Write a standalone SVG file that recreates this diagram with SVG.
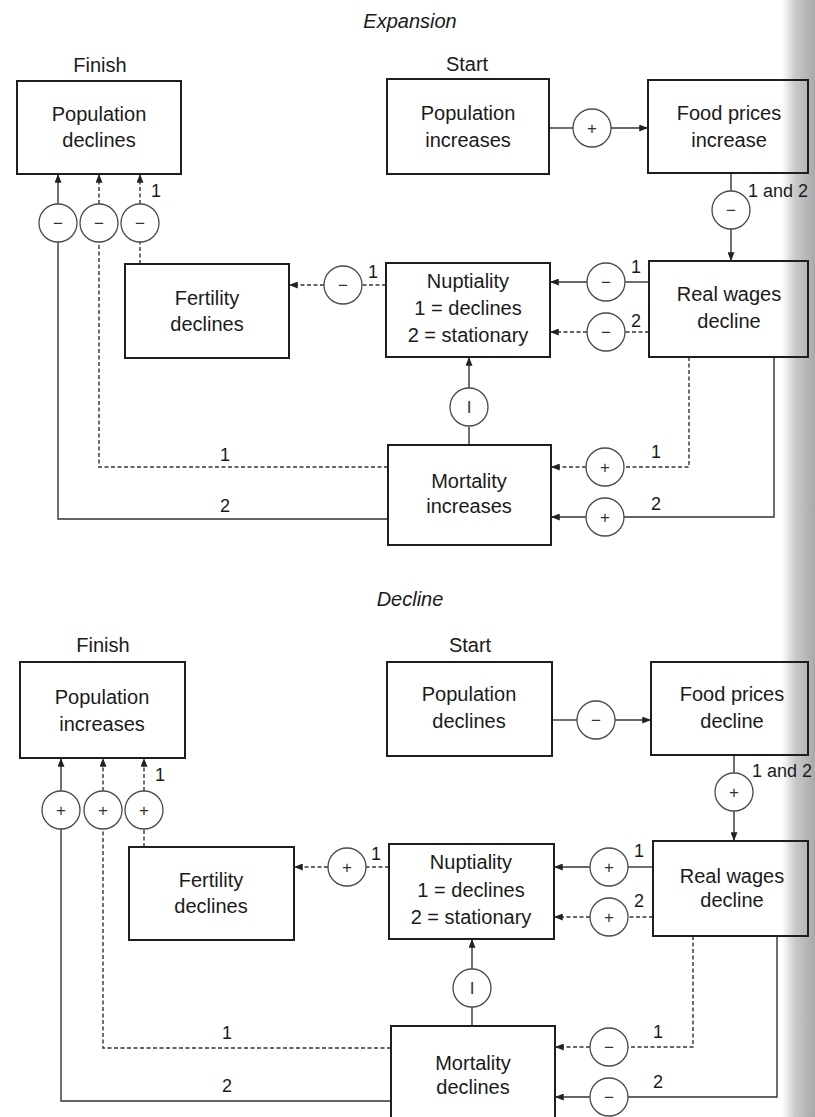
<svg xmlns="http://www.w3.org/2000/svg" width="815" height="1117" viewBox="0 0 815 1117">
<defs>
<linearGradient id="scan" x1="0" y1="0" x2="1" y2="0">
<stop offset="0" stop-color="#ffffff"/>
<stop offset="0.4" stop-color="#c9c9c9"/>
<stop offset="1" stop-color="#a9a9a9"/>
</linearGradient>
<marker id="ah" viewBox="0 0 10 8" refX="10" refY="4" markerWidth="9" markerHeight="7" markerUnits="userSpaceOnUse" orient="auto">
<path d="M0,0 L10,4 L0,8 Z" fill="#222"/>
</marker>
</defs>
<style>
.box{fill:none;stroke:#1e1e1e;stroke-width:2}
.c{fill:#fff;stroke:#4a4a4a;stroke-width:1.3}
.ln{fill:none;stroke:#333;stroke-width:1.4}
.ds{stroke-dasharray:4 2.5}
.t{font-family:"Liberation Sans",Arial,sans-serif;font-size:20px;fill:#1a1a1a;text-anchor:middle}
.it{font-style:italic}
.lb{font-family:"Liberation Sans",Arial,sans-serif;font-size:18px;fill:#1a1a1a}
.s{font-family:"Liberation Sans",Arial,sans-serif;font-size:17px;fill:#333;text-anchor:middle}
</style>
<rect x="0" y="0" width="815" height="1117" fill="#fff"/>
<rect x="782" y="0" width="33" height="1117" fill="url(#scan)"/>

<!-- ===== EXPANSION ===== -->
<text class="t it" x="410" y="28">Expansion</text>
<text class="t" x="100" y="72">Finish</text>
<text class="t" x="467" y="71">Start</text>

<g id="connectors-top">
<path class="ln" d="M549,128 H573"/>
<path class="ln" d="M611,128 H648" marker-end="url(#ah)"/>
<path class="ln" d="M731,173 V191"/>
<path class="ln" d="M731,229 V261" marker-end="url(#ah)"/>
<path class="ln" d="M649,282 H625"/>
<path class="ln" d="M587,282 H550" marker-end="url(#ah)"/>
<path class="ln ds" d="M649,332 H625"/>
<path class="ln ds" d="M587,332 H550" marker-end="url(#ah)"/>
<path class="ln ds" d="M386,285 H362"/>
<path class="ln ds" d="M324,285 H289" marker-end="url(#ah)"/>
<path class="ln ds" d="M140,264 V242"/>
<path class="ln ds" d="M140,204 V174" marker-end="url(#ah)"/>
<path class="ln ds" d="M388,467 H99 V242"/>
<path class="ln ds" d="M99,204 V174" marker-end="url(#ah)"/>
<path class="ln" d="M388,519 H58 V242"/>
<path class="ln" d="M58,204 V174" marker-end="url(#ah)"/>
<path class="ln" d="M469,445 V427"/>
<path class="ln" d="M469,388 V357" marker-end="url(#ah)"/>
<path class="ln ds" d="M689,357 V467 H624"/>
<path class="ln ds" d="M586,467 H551" marker-end="url(#ah)"/>
<path class="ln" d="M774,357 V517 H624"/>
<path class="ln" d="M586,517 H551" marker-end="url(#ah)"/>

<circle class="c" cx="592" cy="128" r="19"/><text class="s" x="592" y="134">+</text>
<circle class="c" cx="731" cy="210" r="19"/><text class="s" x="731" y="216">−</text>
<circle class="c" cx="606" cy="282" r="19"/><text class="s" x="606" y="288">−</text>
<circle class="c" cx="606" cy="332" r="19"/><text class="s" x="606" y="338">−</text>
<circle class="c" cx="343" cy="285" r="19"/><text class="s" x="343" y="291">−</text>
<circle class="c" cx="58" cy="223" r="19"/><text class="s" x="58" y="229">−</text>
<circle class="c" cx="99" cy="223" r="19"/><text class="s" x="99" y="229">−</text>
<circle class="c" cx="140" cy="223" r="19"/><text class="s" x="140" y="229">−</text>
<circle class="c" cx="469" cy="407" r="19"/><text class="s" x="469" y="413">I</text>
<circle class="c" cx="605" cy="467" r="19"/><text class="s" x="605" y="473">+</text>
<circle class="c" cx="605" cy="517" r="19"/><text class="s" x="605" y="523">+</text>

<text class="lb" x="748" y="197">1 and 2</text>
<text class="lb" x="631" y="273">1</text>
<text class="lb" x="631" y="327">2</text>
<text class="lb" x="368" y="278">1</text>
<text class="lb" x="151" y="197">1</text>
<text class="lb" x="220" y="461">1</text>
<text class="lb" x="220" y="512">2</text>
<text class="lb" x="651" y="458">1</text>
<text class="lb" x="651" y="510">2</text>
</g>

<g id="pop-declines-top"><rect class="box" x="17" y="81" width="164" height="93"/>
<text class="t" x="99" y="121">Population</text><text class="t" x="99" y="147">declines</text></g>
<g id="pop-increases-top"><rect class="box" x="387" y="79" width="162" height="95"/>
<text class="t" x="468" y="120">Population</text><text class="t" x="468" y="147">increases</text></g>
<g id="food-increase"><rect class="box" x="648" y="80" width="160" height="93"/>
<text class="t" x="729" y="120">Food prices</text><text class="t" x="729" y="147">increase</text></g>
<g id="wages-top"><rect class="box" x="649" y="261" width="159" height="96"/>
<text class="t" x="729" y="301">Real wages</text><text class="t" x="729" y="328">decline</text></g>
<g id="nuptiality-top"><rect class="box" x="386" y="263" width="164" height="94"/>
<text class="t" x="468" y="288">Nuptiality</text><text class="t" x="468" y="315">1 = declines</text><text class="t" x="468" y="342">2 = stationary</text></g>
<g id="fertility-top"><rect class="box" x="125" y="264" width="164" height="94"/>
<text class="t" x="207" y="305">Fertility</text><text class="t" x="207" y="331">declines</text></g>
<g id="mortality-top"><rect class="box" x="388" y="445" width="163" height="100"/>
<text class="t" x="469" y="488">Mortality</text><text class="t" x="469" y="513">increases</text></g>

<!-- ===== DECLINE ===== -->
<text class="t it" x="410" y="606">Decline</text>
<text class="t" x="103" y="652">Finish</text>
<text class="t" x="470" y="652">Start</text>

<g id="connectors-bottom">
<path class="ln" d="M552,720 H577"/>
<path class="ln" d="M615,720 H651" marker-end="url(#ah)"/>
<path class="ln" d="M734,755 V773"/>
<path class="ln" d="M734,811 V841" marker-end="url(#ah)"/>
<path class="ln" d="M653,867 H628"/>
<path class="ln" d="M590,867 H554" marker-end="url(#ah)"/>
<path class="ln ds" d="M653,917 H628"/>
<path class="ln ds" d="M590,917 H554" marker-end="url(#ah)"/>
<path class="ln ds" d="M389,867 H366"/>
<path class="ln ds" d="M328,867 H294" marker-end="url(#ah)"/>
<path class="ln ds" d="M144,847 V829"/>
<path class="ln ds" d="M144,791 V758" marker-end="url(#ah)"/>
<path class="ln ds" d="M391,1048 H103 V829"/>
<path class="ln ds" d="M103,791 V758" marker-end="url(#ah)"/>
<path class="ln" d="M391,1101 H61 V829"/>
<path class="ln" d="M61,791 V758" marker-end="url(#ah)"/>
<path class="ln" d="M472,1026 V1007"/>
<path class="ln" d="M472,969 V939" marker-end="url(#ah)"/>
<path class="ln ds" d="M693,936 V1047 H628"/>
<path class="ln ds" d="M590,1047 H555" marker-end="url(#ah)"/>
<path class="ln" d="M777,936 V1097 H628"/>
<path class="ln" d="M590,1097 H555" marker-end="url(#ah)"/>

<circle class="c" cx="596" cy="720" r="19"/><text class="s" x="596" y="726">−</text>
<circle class="c" cx="734" cy="792" r="19"/><text class="s" x="734" y="798">+</text>
<circle class="c" cx="609" cy="867" r="19"/><text class="s" x="609" y="873">+</text>
<circle class="c" cx="609" cy="917" r="19"/><text class="s" x="609" y="923">+</text>
<circle class="c" cx="347" cy="867" r="19"/><text class="s" x="347" y="873">+</text>
<circle class="c" cx="61" cy="810" r="19"/><text class="s" x="61" y="816">+</text>
<circle class="c" cx="103" cy="810" r="19"/><text class="s" x="103" y="816">+</text>
<circle class="c" cx="144" cy="810" r="19"/><text class="s" x="144" y="816">+</text>
<circle class="c" cx="472" cy="988" r="19"/><text class="s" x="472" y="994">I</text>
<circle class="c" cx="609" cy="1047" r="19"/><text class="s" x="609" y="1053">−</text>
<circle class="c" cx="609" cy="1097" r="19"/><text class="s" x="609" y="1103">−</text>

<text class="lb" x="752" y="777">1 and 2</text>
<text class="lb" x="634" y="857">1</text>
<text class="lb" x="634" y="907">2</text>
<text class="lb" x="371" y="860">1</text>
<text class="lb" x="155" y="781">1</text>
<text class="lb" x="222" y="1039">1</text>
<text class="lb" x="222" y="1092">2</text>
<text class="lb" x="653" y="1038">1</text>
<text class="lb" x="653" y="1088">2</text>
</g>

<g id="pop-increases-bottom"><rect class="box" x="20" y="662" width="165" height="96"/>
<text class="t" x="102" y="704">Population</text><text class="t" x="102" y="731">increases</text></g>
<g id="pop-declines-bottom"><rect class="box" x="387" y="662" width="165" height="94"/>
<text class="t" x="469" y="701">Population</text><text class="t" x="469" y="728">declines</text></g>
<g id="food-decline"><rect class="box" x="651" y="662" width="157" height="93"/>
<text class="t" x="732" y="701">Food prices</text><text class="t" x="732" y="728">decline</text></g>
<g id="wages-bottom"><rect class="box" x="653" y="841" width="155" height="95"/>
<text class="t" x="732" y="883">Real wages</text><text class="t" x="732" y="907">decline</text></g>
<g id="nuptiality-bottom"><rect class="box" x="389" y="844" width="165" height="95"/>
<text class="t" x="471" y="869">Nuptiality</text><text class="t" x="471" y="897">1 = declines</text><text class="t" x="471" y="924">2 = stationary</text></g>
<g id="fertility-bottom"><rect class="box" x="129" y="847" width="165" height="93"/>
<text class="t" x="211" y="887">Fertility</text><text class="t" x="211" y="913">declines</text></g>
<g id="mortality-bottom"><rect class="box" x="391" y="1026" width="164" height="100"/>
<text class="t" x="473" y="1070">Mortality</text><text class="t" x="473" y="1094">declines</text></g>
</svg>
